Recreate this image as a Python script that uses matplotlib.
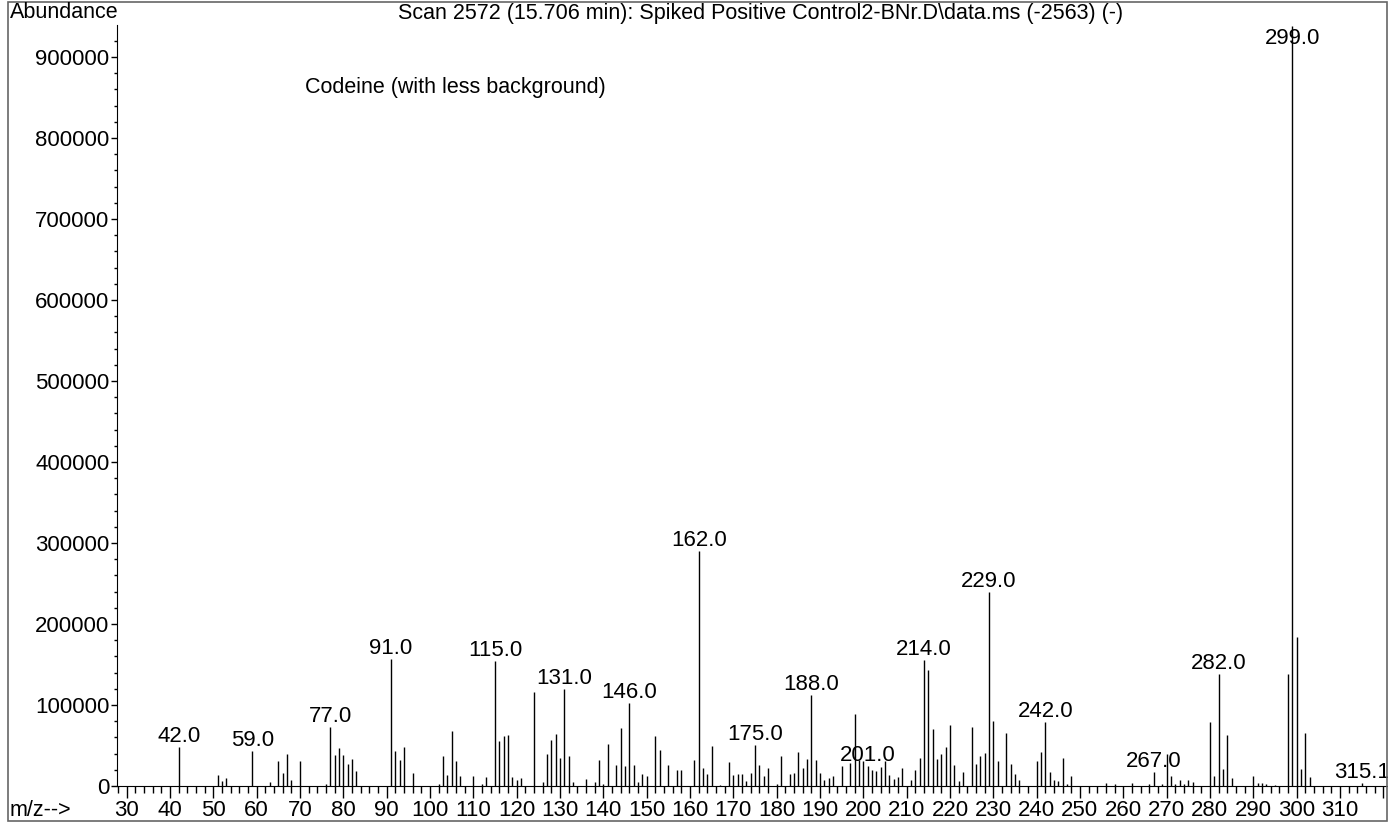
import matplotlib
matplotlib.use('Agg')
import matplotlib.pyplot as plt
from matplotlib.ticker import MultipleLocator
from matplotlib.patches import Rectangle

plt.rcParams['font.family'] = ['Liberation Sans', 'DejaVu Sans']

# ============================================================
# ДАННЫЕ МАСС-СПЕКТРА (m/z и интенсивность)
# ============================================================

mz = [42, 51, 52, 53, 59, 63, 65, 66, 67, 68, 70, 76, 77, 78, 79, 80, 81, 82, 83,
      91, 92, 93, 94, 96, 102, 103, 104, 105, 106, 107, 110, 112, 113,
      115, 116, 117, 118, 119, 120, 121, 124, 126, 127, 128, 129, 130, 131, 132, 133,
      136, 138, 139, 140, 141, 143, 144, 145, 146, 147, 148, 149, 150, 152, 153,
      155, 157, 158, 161, 162, 163, 164, 165, 167, 169, 170, 171, 172, 173, 174,
      175, 176, 177, 178, 180, 181, 183, 184, 185, 186, 187, 188, 189, 190, 191,
      192, 193, 195, 197, 198, 199, 200, 201, 202, 203, 204, 205, 206, 207, 208,
      209, 211, 212, 213, 214, 215, 216, 217, 218, 219, 220, 221, 222, 223, 225,
      226, 227, 228, 229, 230, 231, 233, 234, 235, 236, 240, 241, 242, 243, 244,
      245, 246, 247, 248, 256, 258, 262, 266, 267, 269, 270, 271, 272, 273, 274,
      275, 276, 280, 281, 282, 283, 284, 285, 290, 291, 292, 293, 295, 298, 299,
      300, 301, 302, 303, 315.1]

abundance = [48000, 13500, 6500, 10000, 43000, 5000, 31000, 16000, 40000, 7000, 31000,
             2500, 73000, 38000, 47500, 38000, 27000, 33000, 18500,
             156500, 43500, 32000, 48500, 15500, 2500, 37000, 13500, 68500, 30500,
             12300, 12000, 2500, 11500,
             154500, 55500, 61500, 62500, 10700, 7400, 9500, 116500, 5000, 40000,
             56500, 64000, 34500, 120000, 36500, 4500,
             8500, 5000, 31500, 2000, 52000, 25500, 71000, 24700, 102500, 26400,
             5000, 14400, 12300, 61300, 44000,
             25500, 19400, 20200, 31700, 290000, 22200, 15300, 49000, 1000, 29600,
             13200, 14400, 14800, 5800, 16500,
             50200, 25500, 12800, 22200, 3000, 36600, 15300, 16500, 42000, 22200,
             33800, 112700, 31700, 16500, 7000,
             10400, 12800, 24300, 28400, 89300, 31700, 30800, 24300, 20200, 18100,
             23000, 30800, 13200, 8300, 11100,
             21800, 7000, 19700, 35000, 156000, 142700, 70800, 33800, 39100, 48600,
             74900, 26400, 5800, 16900, 72400,
             26800, 36600, 41200, 239300, 80200, 30800, 65000, 27000, 15000, 7500,
             30500, 41500, 78600, 16700, 7500,
             6300, 34500, 3000, 12700, 4000, 2000, 4000, 3000, 16700, 3000, 40000,
             12500, 2000, 7600, 2800,
             6800, 4500, 78900, 12900, 138600, 20800, 63400, 9500, 12000, 4000, 3500,
             2500, 1500, 138600, 938000,
             184100, 21500, 65000, 10700, 4200]

# подписанные пики
label_mz = [42, 59, 77, 91, 115, 131, 146, 162, 175, 188, 201, 214, 229, 242,
            267, 282, 299, 315.1]

x_major = list(range(30, 321, 10))
x_labels = [str(v) for v in x_major]
x_labels[-1] = ''

title = r'Scan 2572 (15.706 min): Spiked Positive Control2-BNr.D\data.ms (-2563) (-)'

# ============================================================
# ВИЗУАЛИЗАЦИЯ
# ============================================================

W, H = 1388, 823
y_top = 939500
fs_num = 16     # цифры на осях и у пиков
fs_txt = 15.5   # надписи

fig = plt.figure(figsize=(W / 100, H / 100), dpi=100)
ax = fig.add_axes([117 / W, 1 - 786 / H, 1 - 117 / W, (786 - 25) / H])

ax.vlines(mz, 0, abundance, color='black', lw=1.0)

ax.set_xlim(27.76, 321.1)
ax.set_ylim(0, y_top)

ax.spines['top'].set_visible(False)
ax.spines['right'].set_visible(False)

ax.set_xticks(x_major)
ax.set_xticklabels(x_labels)
ax.xaxis.set_minor_locator(MultipleLocator(2))
ax.yaxis.set_major_locator(MultipleLocator(100000))
ax.yaxis.set_minor_locator(MultipleLocator(20000))
ax.yaxis.set_major_formatter(lambda v, p: f'{int(v)}')

ax.tick_params(axis='x', which='major', direction='out', length=8.4, width=1,
               pad=2, labelsize=fs_num)
ax.tick_params(axis='x', which='minor', direction='out', length=4.8, width=1)
ax.tick_params(axis='y', which='major', direction='out', length=4, width=1,
               pad=1.5, labelsize=fs_num)
ax.tick_params(axis='y', which='minor', direction='out', length=2.2, width=1)

# подписи пиков
for m in label_mz:
    h = abundance[mz.index(m)]
    txt = f'{m:.1f}'
    if h > 0.95 * y_top:
        ax.annotate(txt, (m, y_top), xytext=(0, -2), textcoords='offset points',
                    ha='center', va='top', fontsize=fs_num, annotation_clip=False)
    else:
        ax.annotate(txt, (m, h), xytext=(0, 0), textcoords='offset points',
                    ha='center', va='bottom', fontsize=fs_num, annotation_clip=False)

fig.text(10 / W, 1 - 13 / H, 'Abundance', ha='left', va='center', fontsize=fs_txt)
fig.text(761 / W, 1 - 13.5 / H, title, ha='center', va='center', fontsize=fs_txt)
fig.text(305 / W, 1 - 87 / H, 'Codeine (with less background)', ha='left',
         va='center', fontsize=fs_txt)
fig.text(10 / W, 1 - 810 / H, 'm/z-->', ha='left', va='center', fontsize=fs_txt)

# рамка вокруг рисунка
fig.add_artist(Rectangle((8 / W, 1 - 820.5 / H), (1387 - 8) / W, (820.5 - 1.5) / H,
                         transform=fig.transFigure, fill=False,
                         edgecolor='#666666', lw=1.2))

fig.savefig('out.png', dpi=100)
